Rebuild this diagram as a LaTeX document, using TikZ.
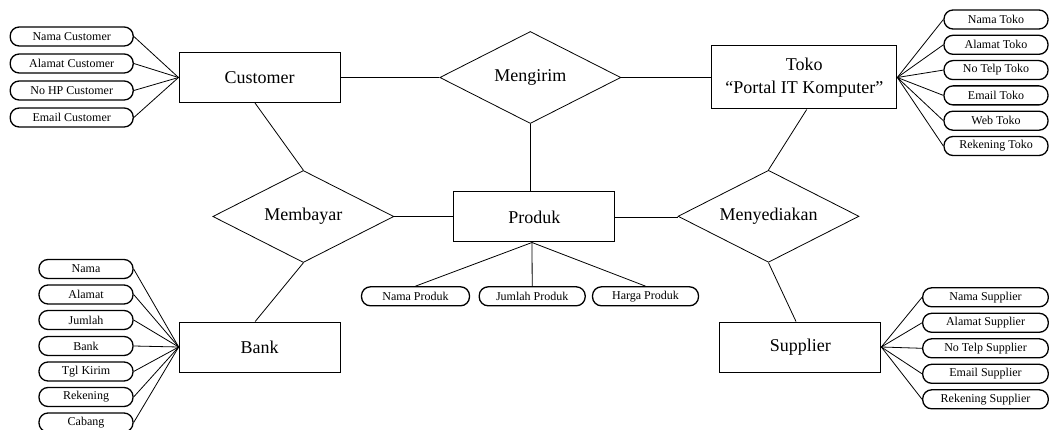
\documentclass[tikz,border=0pt]{standalone}
\usepackage{fontspec}
\setmainfont{Liberation Serif}
\usetikzlibrary{shapes.geometric}
\begin{document}
\begin{tikzpicture}[x=1pt,y=-1pt,
 entity/.style={draw, line width=1pt, rectangle, inner sep=0pt, minimum width=161pt, minimum height=50pt, font=\fontsize{18}{23}\selectfont, align=center},
 rel/.style={draw, line width=0.8pt, diamond, aspect=2, inner sep=0pt, minimum width=181pt, minimum height=92pt, font=\fontsize{18}{22}\selectfont},
 attr/.style={draw, line width=1.3pt, rectangle, rounded corners=9pt, inner sep=0pt, minimum height=19pt, font=\fontsize{12}{14}\selectfont},
 link/.style={line width=0.8pt}]
\useasboundingbox (0,0) rectangle (1052,430);

% entities
\node[entity] (cust) at (259.5,77.5) {Customer};
\node[entity, minimum width=185pt, minimum height=63pt] (toko) at (804.3,77.5) {Toko\\``Portal IT Komputer''};
\node[entity] (prod) at (534.3,217) {Produk};
\node[entity] (bank) at (259.7,347) {Bank};
\node[entity] (supp) at (800.3,347) {Supplier};

% relationships
\node[rel] (kirim) at (530.3,77.5) {Mengirim};
\node[rel] (bayar) at (303.3,216.5) {Membayar};
\node[rel] (sedia) at (768.5,216.3) {Menyediakan};

% relationship links
\draw[link] (cust.east) -- (kirim.west);
\draw[link] (kirim.east) -- (toko.west);
\draw[link] (kirim.south) -- (kirim.south |- prod.north);
\draw[link] (bayar.east) -- (bayar.east -| prod.west);
\draw[link] (prod.east) -- (prod.east -| sedia.west);
\draw[link] ([xshift=-4.5pt]cust.south) -- (bayar.north);
\draw[link] (bayar.south) -- ([xshift=-4.5pt]bank.north);
\draw[link] ([xshift=2.4pt]toko.south) -- (sedia.north);
\draw[link] (sedia.south) -- ([xshift=-4.3pt]supp.north);

% customer attributes
\foreach \n/\t/\y in {c1/Nama Customer/36.5, c2/Alamat Customer/63.5, c3/No HP Customer/90.5, c4/Email Customer/117.5}{
  \node[attr, minimum width=123pt] (\n) at (71.7,\y) {\t};
  \draw[link] (\n.east) -- (cust.west);
}

% toko attributes
\foreach \n/\t/\y in {t1/Nama Toko/19.5, t2/Alamat Toko/44.8, t3/No Telp Toko/70.1, t4/Email Toko/95.4, t5/Web Toko/120.7, t6/Rekening Toko/146}{
  \node[attr, minimum width=104pt] (\n) at (996,\y) {\t};
  \draw[link] (toko.east) -- (\n.west);
}

% bank attributes
\foreach \n/\t/\y in {b1/Nama/269, b2/Alamat/294.5, b3/Jumlah/320, b4/Bank/346, b5/Tgl Kirim/371.5, b6/Rekening/397, b7/Cabang/422.5}{
  \node[attr, minimum width=94pt] (\n) at (86,\y) {\t};
  \draw[link] (\n.east) -- (bank.west);
}

% supplier attributes
\foreach \n/\t/\y in {s1/Nama Supplier/297.3, s2/Alamat Supplier/322.8, s3/No Telp Supplier/348.3, s4/Email Supplier/373.8, s5/Rekening Supplier/399.3}{
  \node[attr, minimum width=125.6pt] (\n) at (985.5,\y) {\t};
  \draw[link] (supp.east) -- (\n.west);
}

% produk attributes
\coordinate (pb) at ([xshift=-2.3pt]prod.south);
\node[attr, minimum width=108pt] (p1) at (415.5,296.3) {Nama Produk};
\node[attr, minimum width=106pt] (p2) at (532.2,296.3) {Jumlah Produk};
\node[attr, minimum width=106pt] (p3) at (645.5,296.3) {Harga Produk};
\draw[link] (pb) -- (p1.north);
\draw[link] (pb) -- (p2.north);
\draw[link] (pb) -- (p3.north);
\end{tikzpicture}
\end{document}
